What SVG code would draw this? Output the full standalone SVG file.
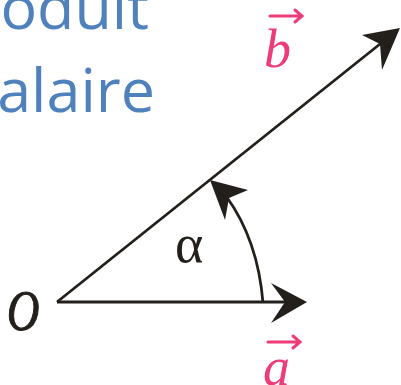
<svg xmlns="http://www.w3.org/2000/svg" width="401" height="385" viewBox="0 0 401 385">
<style>
.title{font-family:"Open Sans","Liberation Sans",sans-serif;font-size:61px;fill:#4F81BD}
.ln{stroke:#231F1A;stroke-width:2.8;fill:none}
.hd{fill:#231F1A}
.vec{stroke:#EE3C78;stroke-width:3;fill:none;stroke-linecap:round}
.pk{font-family:"Liberation Serif",serif;font-style:italic;fill:#EE3C78;font-size:54px}
.blk{font-family:"Liberation Serif",serif;fill:#231F1A}
</style>
<rect width="401" height="385" fill="#fff"/>
<g id="title">
<text class="title" x="149" y="29" text-anchor="end">oduit</text>
<text class="title" x="155" y="112" text-anchor="end">alaire</text>
</g>
<g id="connectors">
<line class="ln" x1="57" y1="302" x2="290" y2="302"/>
<polygon class="hd" points="307,302 271,283 285,302 271,323"/>
<line class="ln" x1="57" y1="302" x2="385" y2="40"/>
<polygon class="hd" points="400,28 362,35 380,44 382,70"/>
<path class="ln" d="M263,303 Q258,240 226,196"/>
<polygon class="hd" points="210,180 248,190 229,198 225,220"/>
</g>
<g id="O"><text class="blk" transform="translate(7,330) scale(0.8,1)" x="0" y="0" font-size="56" font-style="italic" stroke="#231F1A" stroke-width="1.2">O</text></g>
<g id="alpha"><text class="blk" x="175" y="262" font-size="54">α</text></g>
<g id="b">
<path class="vec" d="M270,16 H301 M295,10 L302,16 L295,22"/>
<text class="pk" x="264" y="67">b</text>
</g>
<g id="a">
<path class="vec" d="M268,342 H299 M293,336 L300,342 L293,348"/>
<text class="pk" x="263" y="385">a</text>
</g>
</svg>
